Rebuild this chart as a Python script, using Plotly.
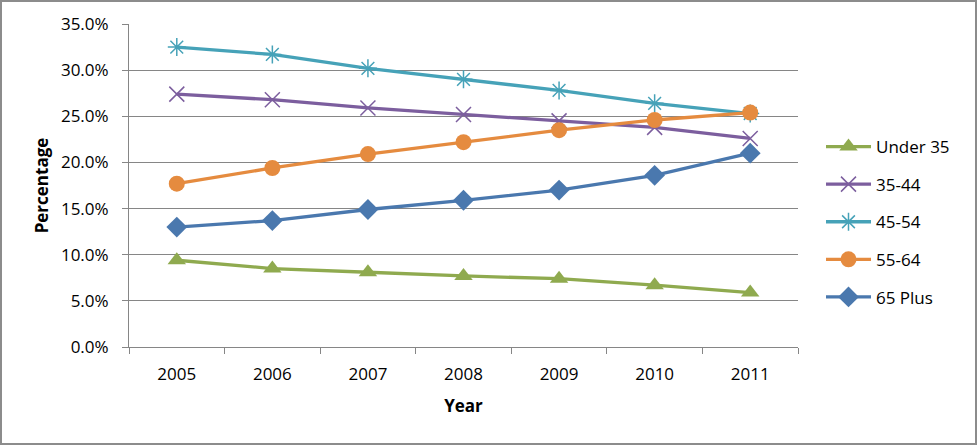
import plotly.graph_objects as go

years = ["2005", "2006", "2007", "2008", "2009", "2010", "2011"]
under35 = [9.4, 8.5, 8.1, 7.7, 7.4, 6.7, 5.9]
age35_44 = [27.4, 26.8, 25.9, 25.2, 24.5, 23.8, 22.6]
age45_54 = [32.5, 31.7, 30.2, 29.0, 27.8, 26.4, 25.3]
age55_64 = [17.7, 19.4, 20.9, 22.2, 23.5, 24.6, 25.4]
age65plus = [13.0, 13.7, 14.9, 15.9, 17.0, 18.6, 21.0]
y_ticks = [0, 5, 10, 15, 20, 25, 30, 35]
y_tick_labels = ["0.0%", "5.0%", "10.0%", "15.0%", "20.0%", "25.0%", "30.0%", "35.0%"]

series = [
    ("Under 35", under35, "#8FAA4F", "triangle-up", 16, 0),
    ("35-44", age35_44, "#7C5E9E", "x-thin-open", 15, 1.5),
    ("45-54", age45_54, "#46A2B8", "asterisk-open", 15, 1.5),
    ("55-64", age55_64, "#E58B3F", "circle", 16, 0),
    ("65 Plus", age65plus, "#4A78AE", "diamond", 16, 0),
]

FONT = "Open Sans, Liberation Sans, Arial"
FS = 17

fig = go.Figure()
for i, (name, vals, color, sym, size, lw) in enumerate(series):
    fig.add_trace(go.Scatter(
        x=years, y=vals, name=name, mode="lines+markers",
        line=dict(color=color, width=3.3),
        marker=dict(symbol=sym, size=size, color=color,
                    line=dict(color=color, width=lw)),
        legendgroup=str(i),
    ))

W, H = 977, 445
ml, mr, mt, mb = 129, 179, 24, 98
pw, ph = W - ml - mr, H - mt - mb

fig.update_layout(
    width=W, height=H,
    margin=dict(l=ml, r=mr, t=mt, b=mb),
    paper_bgcolor="white", plot_bgcolor="white",
    font=dict(family=FONT, size=FS, color="#000000"),
    showlegend=True,
    legend=dict(x=(821 - ml) / pw, y=(H - mb - 129) / ph, xanchor="left", yanchor="top",
                font=dict(family=FONT, size=FS), tracegroupgap=12.5,
                bgcolor="rgba(0,0,0,0)", itemwidth=45),
    xaxis=dict(
        type="category", showgrid=False, showline=True, linecolor="#868686", linewidth=1,
        ticks="outside", tickson="boundaries", ticklen=6, tickcolor="#868686",
        tickfont=dict(family=FONT, size=FS), ticklabelstandoff=12,
        title=dict(text="<b>Year</b>", font=dict(family=FONT, size=FS), standoff=15),
        range=[-0.5, 6.5], fixedrange=True,
    ),
    yaxis=dict(
        range=[0, 35], tickvals=y_ticks, ticktext=y_tick_labels,
        showgrid=True, gridcolor="#868686", gridwidth=1, zeroline=False,
        showline=True, linecolor="#868686", linewidth=1,
        ticks="outside", ticklen=6, tickcolor="#868686",
        tickfont=dict(family=FONT, size=FS), ticklabelstandoff=10,
        title=dict(text="<b>Percentage</b>", font=dict(family=FONT, size=FS), standoff=7),
        fixedrange=True,
    ),
    shapes=[dict(type="rect", xref="paper", yref="paper",
                 x0=-(ml - 1) / pw, x1=1 + (mr - 1) / pw,
                 y0=-(mb - 1) / ph, y1=1 + (mt - 1) / ph,
                 line=dict(color="#8C8C8C", width=2), fillcolor="rgba(0,0,0,0)")],
)

fig.write_html("out.html", config={"displayModeBar": False},
               post_script="document.body.style.margin='0';")
